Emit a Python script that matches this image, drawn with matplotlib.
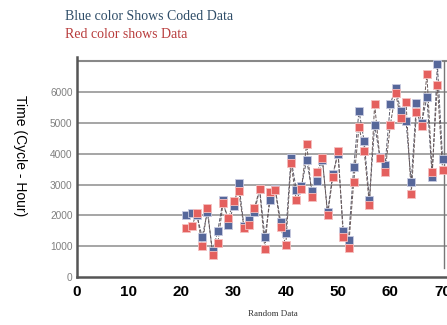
import numpy as np
import matplotlib
matplotlib.use('Agg')
import matplotlib.pyplot as plt

# Random data index 21..70
x = np.arange(21, 71)
coded = [2000, 2070, 2000, 1300, 2100, 830, 1500, 2500, 1700, 2300,
         3050, 1650, 1850, 2100, 2850, 1300, 2500, 2850, 1800, 1420,
         3850, 2830, 2950, 3800, 2800, 3100, 3800, 2100, 3350, 4000,
         1500, 1200, 3570, 5390, 4400, 2500, 4930, 3900, 3630, 5610,
         6130, 5390, 5060, 3080, 5650, 5000, 5840, 3250, 6910, 3830]
data = [1600, 1650, 2070, 1000, 2250, 700, 1100, 2400, 1900, 2450,
        2800, 1600, 1700, 2240, 2850, 900, 2770, 2830, 1620, 1040,
        3700, 2500, 2850, 4330, 2600, 3400, 3850, 2000, 3250, 4090,
        1300, 940, 3080, 4870, 4090, 2340, 5610, 3850, 3400, 4930,
        5970, 5160, 5680, 2690, 5360, 4900, 6580, 3400, 6230, 3470]
yticks = [0, 1000, 2000, 3000, 4000, 5000, 6000]
xticks = [0, 10, 20, 30, 40, 50, 60, 70]

blue = '#56679a'
red = '#e4605e'

fig = plt.figure(figsize=(4.47, 3.25), dpi=100)
# axes run past the right edge, like the cropped original
ax = fig.add_axes([0.1716, 0.1477, 0.877, 0.678])

for v in yticks[1:]:
    ax.axhline(v, color='#969696', lw=1.2, zorder=1)
ax.axhline(7000, color='#888888', lw=1.5, xmin=0.005, zorder=1)
ax.axvline(70.2, ymin=0.04, ymax=0.98, color='#777777', lw=1.0, zorder=1)

ax.plot(x, coded, color='#5a5a6a', ls='--', lw=0.7, zorder=2)
ax.plot(x, data, color='#6a5a5a', ls='--', lw=0.7, zorder=2)
ax.plot(x, coded, ls='none', marker='s', ms=6, mfc=blue, mec='#c8cbe0', mew=0.6, zorder=3)
ax.plot(x, data, ls='none', marker='s', ms=6, mfc=red, mec='#f5c0c0', mew=0.6, zorder=4)

ax.set_xlim(0, 75)
ax.set_ylim(0, 7150)
ax.set_xticks(xticks)
ax.set_xticklabels([str(t) for t in xticks], fontsize=11, fontweight='bold',
                   family='Liberation Sans')
ax.set_yticks(yticks)
ax.set_yticklabels([str(t) for t in yticks], fontsize=7.3, color='#808080',
                   family='Liberation Sans')
ax.tick_params(length=0, pad=3)
ax.tick_params(axis='x', pad=6)

for s in ['top', 'right']:
    ax.spines[s].set_visible(False)
ax.spines['left'].set_color('#555555')
ax.spines['left'].set_linewidth(1.8)
ax.spines['bottom'].set_color('#555555')
ax.spines['bottom'].set_linewidth(1.8)

fig.text(0.045, 0.52, 'Time (Cycle - Hour)', rotation=-90, ha='center', va='center',
         fontsize=10, family='Liberation Sans')
fig.text(0.61, 0.035, 'Random Data', ha='center', va='center', fontsize=6.5,
         family='Liberation Serif', color='#333333')
fig.text(0.145, 0.95, 'Blue color Shows Coded Data', ha='left', va='center',
         fontsize=10, family='Liberation Serif', color='#2f4d68')
fig.text(0.145, 0.895, 'Red color shows Data', ha='left', va='center',
         fontsize=10, family='Liberation Serif', color='#b83c3c')

fig.savefig('out.png', dpi=100)
